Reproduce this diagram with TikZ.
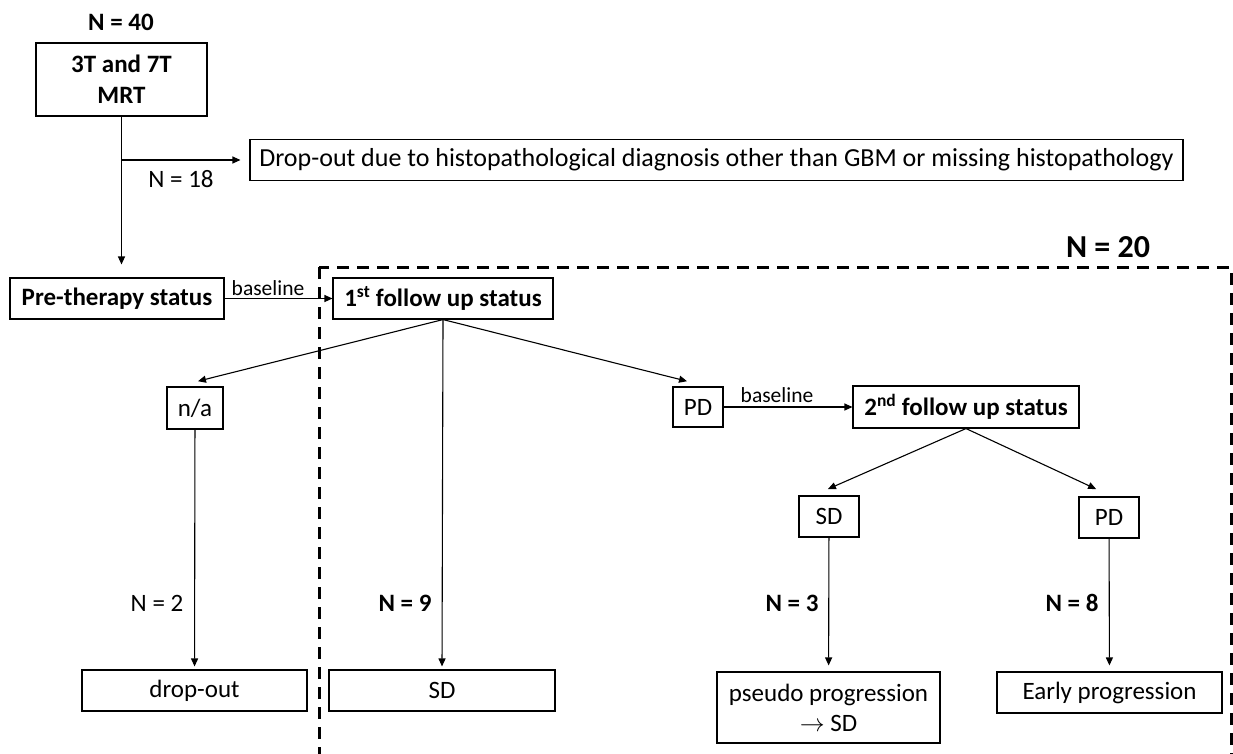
\documentclass[tikz,border=0pt]{standalone}
\usepackage{fontspec}
\setmainfont{Carlito}
\usepackage{tikz}
\usetikzlibrary{arrows.meta, positioning, calc}

\begin{document}
\begin{tikzpicture}[x=1pt, y=-1pt, ->, >={Triangle[length=8pt, width=7pt]}, line width=1.1pt,
	every node/.style={font=\fontsize{25}{30}\selectfont},
	box/.style={draw, rectangle, inner sep=0pt, minimum height=41pt, align=center},
	boldbox/.style={box, font=\fontsize{25}{30}\selectfont\bfseries},
	count/.style={inner sep=0pt},
	boldcount/.style={count, font=\fontsize{25}{30}\selectfont\bfseries},
	basetag/.style={inner sep=0pt, font=\fontsize{21.5}{25}\selectfont},
	frametwenty/.style={-, dash pattern=on 12pt off 8pt, line width=3pt}]

			\useasboundingbox (0,0) rectangle (1233,753);

			\draw [frametwenty] (319,267) rectangle (1231,780);
			\node [boldcount, font=\fontsize{32}{38}\selectfont\bfseries] (n20) at (1108,247) {N = 20};

			\node [boldcount] (n40) at (121,22) {N = 40};
			\node [boldbox, minimum width=171pt, minimum height=73pt, font=\fontsize{25}{31}\selectfont\bfseries] (mrt) at (121.5,79.5) {3T and 7T\\MRT};
			\node [box, minimum width=933pt, font=\fontsize{26}{30}\selectfont] (drop) at (716.5,160) {Drop-out due to histopathological diagnosis other than GBM or missing histopathology};
			\node [boldbox, minimum width=214pt] (pre) at (117,298.5) {Pre-therapy status};
			\node [boldbox, minimum width=220pt] (f1) at (443,298.5) {1\textsuperscript{st} follow up status};

			\node [box, minimum width=56pt, minimum height=42pt] (na) at (195,408) {n/a};
			\node [box, minimum width=50pt, minimum height=40pt] (pd) at (698,407) {PD};
			\node [boldbox, minimum width=226pt, minimum height=42pt] (f2) at (966,407) {2\textsuperscript{nd} follow up status};
			\node [box, minimum width=60pt] (sd2) at (829,516.5) {SD};
			\node [box, minimum width=60pt] (pd2) at (1109,517.5) {PD};

			\node [box, minimum width=225pt] (dropout) at (194.5,690.5) {drop-out};
			\node [box, minimum width=226pt] (sd) at (442,690.5) {SD};
			\node [box, minimum width=223pt, minimum height=71pt] (pseudo) at (828.5,707.5) {pseudo progression\\$\rightarrow$ SD};
			\node [box, minimum width=225pt] (early) at (1109.5,692.5) {Early progression};

			\coordinate (split) at (mrt.south |- drop.west);
			\draw (mrt.south) -- ($(mrt.south |- pre.north)+(0,-13)$);
			\draw [shorten >=9pt] (split) -- (drop.west);
			\node [count] (n18) at (181,179) {N = 18};

			\draw (pre) -- (f1);
			\node [basetag] (base1) at (268,288) {baseline};

			\draw [shorten >=1pt] (f1.south) -- ([shift={(2pt,5pt)}]na.north);
			\draw [shorten >=3pt] (f1.south) -- (sd.north);
			\draw [shorten >=1pt] (f1.south) -- ([shift={(-10pt,5pt)}]pd.north);

			\draw (pd) -- (f2);
			\node [basetag] (base2) at (777,395) {baseline};

			\draw [shorten >=1pt] (f2.south) -- ([shift={(-2pt,6pt)}]sd2.north);
			\draw [shorten >=1pt] (f2.south) -- ([shift={(-12pt,7pt)}]pd2.north);

			\draw [shorten >=3pt] (na) -- (dropout);
			\draw [shorten >=6pt] (sd2) -- (pseudo);
			\draw [shorten >=6pt] (pd2) -- (early);

			\node [count] (n2) at (157,603) {N = 2};
			\node [boldcount] (n9) at (405,603) {N = 9};
			\node [boldcount] (n3) at (792,603) {N = 3};
			\node [boldcount] (n8) at (1072,603) {N = 8};

\end{tikzpicture}
\end{document}
